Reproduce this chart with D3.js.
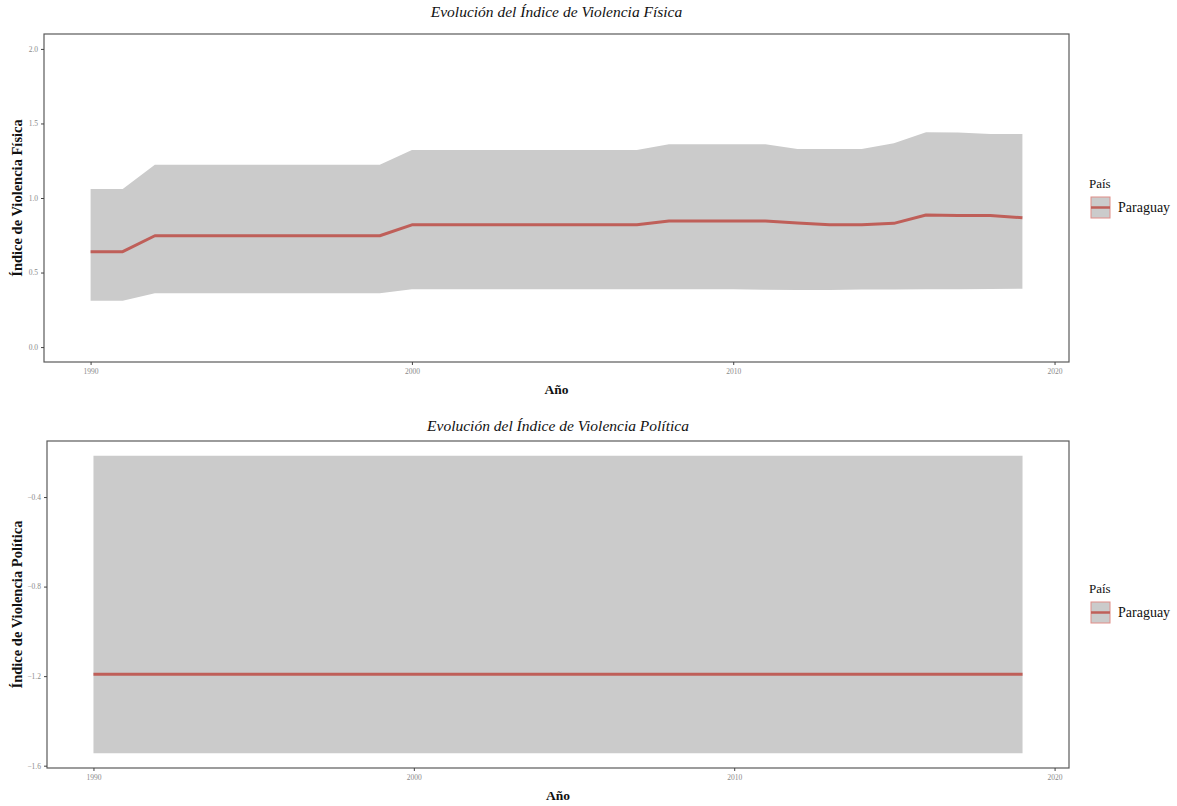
<!DOCTYPE html>
<html>
<head>
<meta charset="utf-8">
<script src="https://cdn.jsdelivr.net/npm/d3@7"></script>
<style>
  body { margin: 0; background: #ffffff; }
  svg { display: block; font-family: "Liberation Serif", "DejaVu Serif", serif; }
</style>
</head>
<body>
<svg id="chart" width="1177" height="806"></svg>
<script>
// ---- Data -------------------------------------------------------------
const countryName = "Paraguay";
const legendTitle = "País";
const xAxisTitle = "Año";

const years = [1990, 1991, 1992, 1993, 1994, 1995, 1996, 1997, 1998, 1999,
               2000, 2001, 2002, 2003, 2004, 2005, 2006, 2007, 2008, 2009,
               2010, 2011, 2012, 2013, 2014, 2015, 2016, 2017, 2018, 2019];

// Índice de Violencia Física: estimate and interval bounds
const fisicaMedia = [0.640, 0.640, 0.747, 0.747, 0.747, 0.747, 0.747, 0.747, 0.747, 0.747,
                     0.820, 0.820, 0.820, 0.820, 0.820, 0.820, 0.820, 0.820, 0.846, 0.846,
                     0.846, 0.846, 0.832, 0.820, 0.820, 0.830, 0.886, 0.882, 0.882, 0.868];
const fisicaInferior = [0.311, 0.311, 0.361, 0.361, 0.361, 0.361, 0.361, 0.361, 0.361, 0.361,
                        0.388, 0.388, 0.388, 0.388, 0.388, 0.388, 0.388, 0.388, 0.388, 0.388,
                        0.388, 0.384, 0.383, 0.383, 0.386, 0.386, 0.388, 0.388, 0.390, 0.392];
const fisicaSuperior = [1.060, 1.060, 1.223, 1.223, 1.223, 1.223, 1.223, 1.223, 1.223, 1.223,
                        1.322, 1.322, 1.322, 1.322, 1.322, 1.322, 1.322, 1.322, 1.360, 1.360,
                        1.360, 1.360, 1.329, 1.329, 1.329, 1.367, 1.441, 1.440, 1.429, 1.429];

// Índice de Violencia Política: estimate and interval bounds
const politicaMedia = [-1.192, -1.192, -1.192, -1.192, -1.192, -1.192, -1.192, -1.192, -1.192, -1.192,
                       -1.192, -1.192, -1.192, -1.192, -1.192, -1.192, -1.192, -1.192, -1.192, -1.192,
                       -1.192, -1.192, -1.192, -1.192, -1.192, -1.192, -1.192, -1.192, -1.192, -1.192];
const politicaInferior = [-1.544, -1.544, -1.544, -1.544, -1.544, -1.544, -1.544, -1.544, -1.544, -1.544,
                          -1.544, -1.544, -1.544, -1.544, -1.544, -1.544, -1.544, -1.544, -1.544, -1.544,
                          -1.544, -1.544, -1.544, -1.544, -1.544, -1.544, -1.544, -1.544, -1.544, -1.544];
const politicaSuperior = [-0.216, -0.216, -0.216, -0.216, -0.216, -0.216, -0.216, -0.216, -0.216, -0.216,
                          -0.216, -0.216, -0.216, -0.216, -0.216, -0.216, -0.216, -0.216, -0.216, -0.216,
                          -0.216, -0.216, -0.216, -0.216, -0.216, -0.216, -0.216, -0.216, -0.216, -0.216];

// Tick values
const yearTicks = [1990, 2000, 2010, 2020];
const fisicaTicks = [0.0, 0.5, 1.0, 1.5, 2.0];
const politicaTicks = [-1.6, -1.2, -0.8, -0.4];

// ---- Styling ----------------------------------------------------------
const ribbonFill = "#cbcbcb";
const lineColor = "#bf5f59";
const frameColor = "#5a5a5a";
const tickTextColor = "#8a8a8a";

const svg = d3.select("#chart");

// Expand a [min,max] range by 5% on each side
function expand(lo, hi) {
  const pad = (hi - lo) * 0.05;
  return [lo - pad, hi + pad];
}

function drawPanel(cfg) {
  const { box, title, titleY, yTitle, media, inferior, superior, yLimits, yTicks, legendY } = cfg;
  const rows = years.map((yr, i) => ({ year: yr, mid: media[i], lo: inferior[i], hi: superior[i] }));

  const x = d3.scaleLinear()
    .domain(expand(d3.min(years), d3.max(years)))
    .range([box.left, box.right]);
  const y = d3.scaleLinear()
    .domain(expand(yLimits[0], yLimits[1]))
    .range([box.bottom, box.top]);

  const g = svg.append("g");

  // confidence ribbon
  g.append("path")
    .datum(rows)
    .attr("fill", ribbonFill)
    .attr("d", d3.area()
      .x(d => x(d.year))
      .y0(d => y(d.lo))
      .y1(d => y(d.hi)));

  // estimate line
  g.append("path")
    .datum(rows)
    .attr("fill", "none")
    .attr("stroke", lineColor)
    .attr("stroke-width", 3)
    .attr("stroke-linejoin", "round")
    .attr("d", d3.line()
      .x(d => x(d.year))
      .y(d => y(d.mid)));

  // panel frame
  g.append("rect")
    .attr("x", box.left)
    .attr("y", box.top)
    .attr("width", box.right - box.left)
    .attr("height", box.bottom - box.top)
    .attr("fill", "none")
    .attr("stroke", frameColor)
    .attr("stroke-width", 1.2);

  // axes
  const xAxis = g.append("g")
    .attr("transform", `translate(0,${box.bottom})`)
    .call(d3.axisBottom(x).tickValues(yearTicks).tickFormat(d3.format("d")).tickSize(3).tickPadding(4));
  const yAxis = g.append("g")
    .attr("transform", `translate(${box.left},0)`)
    .call(d3.axisLeft(y).tickValues(yTicks).tickFormat(d3.format(".1f")).tickSize(3).tickPadding(3));

  [xAxis, yAxis].forEach(a => {
    a.select(".domain").remove();
    a.selectAll(".tick line").attr("stroke", "#444");
    a.selectAll(".tick text")
      .attr("fill", tickTextColor)
      .style("font-family", "'Liberation Serif', serif")
      .style("font-size", "7.5px");
  });

  const cx = (box.left + box.right) / 2;

  // panel title
  svg.append("text")
    .attr("x", cx)
    .attr("y", titleY)
    .attr("text-anchor", "middle")
    .style("font-style", "italic")
    .style("font-size", "15.5px")
    .attr("fill", "#111")
    .text(title);

  // x axis title
  svg.append("text")
    .attr("x", cx)
    .attr("y", box.bottom + 32)
    .attr("text-anchor", "middle")
    .style("font-weight", "bold")
    .style("font-size", "13.5px")
    .attr("fill", "#111")
    .text(xAxisTitle);

  // y axis title
  const cy = (box.top + box.bottom) / 2;
  svg.append("text")
    .attr("transform", `translate(22,${cy}) rotate(-90)`)
    .attr("text-anchor", "middle")
    .style("font-weight", "bold")
    .style("font-size", "14.5px")
    .attr("fill", "#111")
    .text(yTitle);

  // legend
  const lx = 1089;
  svg.append("text")
    .attr("x", lx)
    .attr("y", legendY)
    .style("font-size", "13px")
    .attr("fill", "#111")
    .text(legendTitle);
  const kg = svg.append("g").attr("transform", `translate(${lx + 2},${legendY + 9})`);
  kg.append("rect")
    .attr("width", 19).attr("height", 21)
    .attr("fill", ribbonFill)
    .attr("stroke", "#e08d88")
    .attr("stroke-width", 1);
  kg.append("line")
    .attr("x1", 0).attr("x2", 19)
    .attr("y1", 10.5).attr("y2", 10.5)
    .attr("stroke", lineColor)
    .attr("stroke-width", 2.5);
  svg.append("text")
    .attr("x", lx + 29)
    .attr("y", legendY + 24)
    .style("font-size", "14px")
    .attr("fill", "#111")
    .text(countryName);
}

drawPanel({
  box: { left: 44, right: 1069, top: 34, bottom: 362 },
  title: "Evolución del Índice de Violencia Física",
  titleY: 17,
  yTitle: "Índice de Violencia Física",
  media: fisicaMedia, inferior: fisicaInferior, superior: fisicaSuperior,
  yLimits: [0, 2],
  yTicks: fisicaTicks,
  legendY: 188
});

drawPanel({
  box: { left: 47, right: 1069, top: 441, bottom: 768 },
  title: "Evolución del Índice de Violencia Política",
  titleY: 431,
  yTitle: "Índice de Violencia Política",
  media: politicaMedia, inferior: politicaInferior, superior: politicaSuperior,
  yLimits: [d3.min(politicaInferior), d3.max(politicaSuperior)],
  yTicks: politicaTicks,
  legendY: 593
});
</script>
</body>
</html>
